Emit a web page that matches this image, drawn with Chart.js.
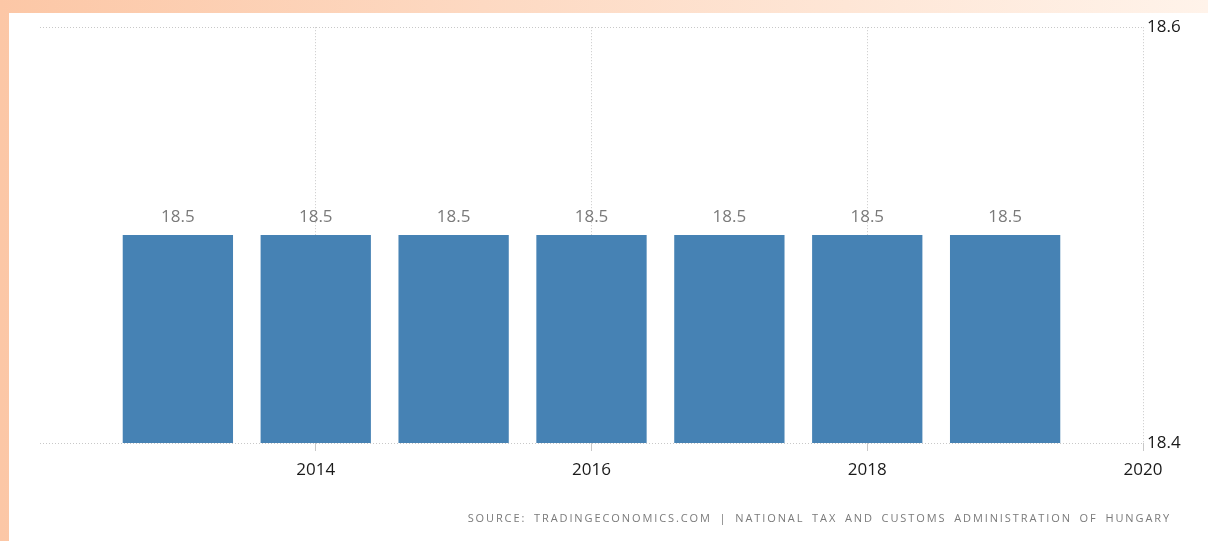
<!DOCTYPE html>
<html lang="en">
<head>
    <meta charset="UTF-8">
    <title>Hungary Corporate Tax Rate</title>
    <script src="https://cdn.jsdelivr.net/npm/chart.js@4.4.1/dist/chart.umd.min.js"></script>
    <style>
        html, body {
            margin: 0;
            padding: 0;
            width: 1208px;
            height: 541px;
            overflow: hidden;
        }
        body {
            background: linear-gradient(to right, #fcc7a6 0%, #fdd9c2 40%, #fff3ea 100%);
            position: relative;
            font-family: "Open Sans", Arial, sans-serif;
        }
        #panel {
            position: absolute;
            left: 9px;
            top: 13px;
            width: 1199px;
            height: 528px;
            background: #fff;
        }
        #chartBox {
            position: absolute;
            left: 0;
            top: 0;
            width: 1199px;
            height: 528px;
        }
        #source {
            position: absolute;
            right: 37px;
            top: 497px;
            font-size: 11px;
            letter-spacing: 1.9px;
            word-spacing: 3px;
            color: #7a7a7a;
            white-space: nowrap;
        }
    </style>
</head>
<body>
    <div id="panel">
        <div id="chartBox"><canvas id="taxChart"></canvas></div>
        <div id="source">SOURCE: TRADINGECONOMICS.COM | NATIONAL TAX AND CUSTOMS ADMINISTRATION OF HUNGARY</div>
    </div>
    <script>
        const years = [2013, 2014, 2015, 2016, 2017, 2018, 2019];
        const rates = [18.5, 18.5, 18.5, 18.5, 18.5, 18.5, 18.5];
        const xTicks = [2014, 2016, 2018, 2020];
        const yTicks = [18.4, 18.6];

        // value labels above each bar
        const barLabels = {
            id: 'barLabels',
            afterDatasetsDraw(chart) {
                const ctx = chart.ctx;
                const meta = chart.getDatasetMeta(0);
                ctx.save();
                ctx.font = '17px "Open Sans", Arial, sans-serif';
                ctx.fillStyle = '#7a7a7a';
                ctx.textAlign = 'center';
                ctx.textBaseline = 'bottom';
                meta.data.forEach((bar, i) => {
                    ctx.fillText(rates[i].toFixed(1), bar.x, bar.y - 9);
                });
                ctx.restore();
            }
        };

        const ctx = document.getElementById('taxChart').getContext('2d');
        const myChart = new Chart(ctx, {
            type: 'bar',
            data: {
                datasets: [{
                    data: years.map((y, i) => ({ x: y, y: rates[i] })),
                    backgroundColor: '#4682b4',
                    borderWidth: 0,
                    categoryPercentage: 1,
                    barPercentage: 0.8
                }]
            },
            options: {
                responsive: true,
                maintainAspectRatio: false,
                animation: false,
                layout: {
                    padding: { left: 31, top: 14, right: 25, bottom: 58 }
                },
                plugins: {
                    legend: { display: false },
                    tooltip: { enabled: false }
                },
                scales: {
                    x: {
                        type: 'linear',
                        min: 2012,
                        max: 2020,
                        offset: false,
                        afterBuildTicks: scale => {
                            scale.ticks = xTicks.map(v => ({ value: v }));
                        },
                        afterFit: scale => { scale.height = 40; },
                        grid: {
                            offset: false,
                            color: '#c8c8c8',
                            tickColor: '#c8c8c8',
                            tickLength: 8,
                            drawOnChartArea: true
                        },
                        border: { display: false, dash: [1, 2] },
                        ticks: {
                            padding: 9,
                            color: '#1a1a1a',
                            font: { family: '"Open Sans", Arial, sans-serif', size: 17 },
                            callback: v => String(v)
                        }
                    },
                    y: {
                        position: 'right',
                        min: 18.4,
                        max: 18.6,
                        afterBuildTicks: scale => {
                            scale.ticks = yTicks.map(v => ({ value: v }));
                        },
                        afterFit: scale => { scale.width = 40; },
                        grid: {
                            color: '#c8c8c8',
                            drawTicks: false
                        },
                        border: { display: false, dash: [1, 2] },
                        ticks: {
                            padding: 4,
                            color: '#1a1a1a',
                            font: { family: '"Open Sans", Arial, sans-serif', size: 17 },
                            callback: v => Number(v).toFixed(1)
                        }
                    }
                }
            },
            plugins: [barLabels]
        });
    </script>
</body>
</html>
